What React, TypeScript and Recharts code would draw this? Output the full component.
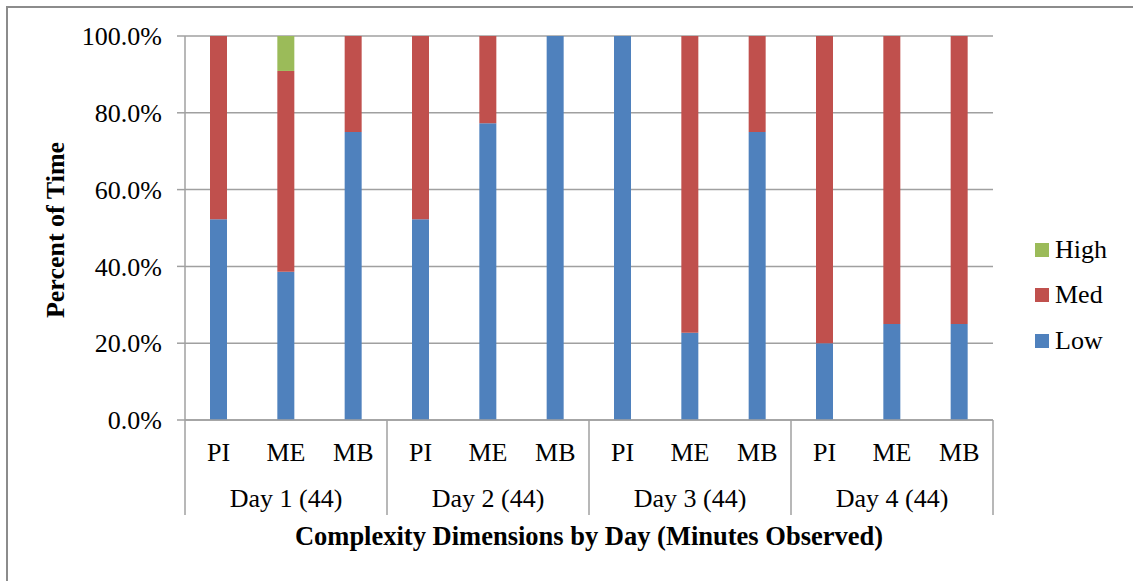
import React from "react";
import { Bar, BarChart, CartesianGrid, XAxis, YAxis } from "recharts";

// categories
const dims = ["PI", "ME", "MB", "PI", "ME", "MB", "PI", "ME", "MB", "PI", "ME", "MB"];
const days = ["Day 1 (44)", "Day 2 (44)", "Day 3 (44)", "Day 4 (44)"];

// percent of time per complexity level
const low = [52.3, 38.6, 75.0, 52.3, 77.3, 100, 100, 22.7, 75.0, 20.0, 25.0, 25.0];
const med = [47.7, 52.3, 25.0, 47.7, 22.7, 0, 0, 77.3, 25.0, 80.0, 75.0, 75.0];
const high = [0, 9.1, 0, 0, 0, 0, 0, 0, 0, 0, 0, 0];

const yTicks = [0, 20, 40, 60, 80, 100];

const data = dims.map((d, i) => ({
  dim: d,
  day: days[Math.floor(i / 3)],
  Low: low[i],
  Med: med[i],
  High: high[i],
}));

const W = 1133;
const H = 581;
const M = { top: 36, right: 140, left: 85, bottom: 0 };
const Y_W = 100;
const X_H = 161;
const PLOT_L = M.left + Y_W;
const PLOT_R = W - M.right;
const BAND = (PLOT_R - PLOT_L) / data.length;

const FONT = "'Liberation Serif', 'Times New Roman', serif";
const FS = 26;
const GRAY = "#a0a0a0";

const colors = { Low: "#4F81BD", Med: "#C0504D", High: "#9BBB59" };

function CategoryTick(props: any) {
  const { x, y, index } = props;
  const item = data[index];
  return (
    <g>
      <text x={x} y={y + 41} textAnchor="middle" fontFamily={FONT} fontSize={FS} fill="#000">
        {item.dim}
      </text>
      {index % 3 === 1 && (
        <text x={x} y={y + 87} textAnchor="middle" fontFamily={FONT} fontSize={FS} fill="#000">
          {item.day}
        </text>
      )}
      {index % 3 === 0 && (
        <line x1={x - BAND / 2} x2={x - BAND / 2} y1={y} y2={y + 95} stroke={GRAY} strokeWidth={1.5} />
      )}
      {index === data.length - 1 && (
        <line x1={x + BAND / 2} x2={x + BAND / 2} y1={y} y2={y + 95} stroke={GRAY} strokeWidth={1.5} />
      )}
    </g>
  );
}

function LegendBox() {
  const items = ["High", "Med", "Low"] as const;
  return (
    <div
      style={{
        position: "absolute",
        left: 1035,
        top: 227,
        fontFamily: FONT,
        fontSize: FS,
        color: "#000",
        lineHeight: 1,
      }}
    >
      {items.map((k) => (
        <div key={k} style={{ display: "flex", alignItems: "center", height: 45.5 }}>
          <span
            style={{
              display: "inline-block",
              width: 14,
              height: 14,
              background: colors[k],
              marginRight: 6,
            }}
          />
          <span>{k}</span>
        </div>
      ))}
    </div>
  );
}

export default function App() {
  return (
    <div
      style={{
        position: "absolute",
        left: 0,
        top: 0,
        width: W,
        height: H,
        overflow: "hidden",
        background: "#fff",
      }}
    >
      <div
        style={{
          position: "absolute",
          left: 6,
          top: 6,
          width: W + 20,
          height: H + 20,
          borderLeft: "2px solid #8c8c8c",
          borderTop: "2px solid #8c8c8c",
        }}
      />
      <div style={{ position: "absolute", left: 0, top: 0 }}>
        <BarChart width={W} height={H} data={data} margin={M} barSize={17}>
          <CartesianGrid vertical={false} stroke={GRAY} strokeWidth={1.5} />
          <XAxis
            dataKey="dim"
            height={X_H}
            interval={0}
            tickSize={0}
            tickMargin={0}
            tickLine={false}
            axisLine={{ stroke: GRAY, strokeWidth: 1.5 }}
            tick={<CategoryTick />}
            label={{
              content: () => (
                <text
                  x={(PLOT_L + PLOT_R) / 2}
                  y={545}
                  textAnchor="middle"
                  fontFamily={FONT}
                  fontSize={26.5}
                  fontWeight="bold"
                  fill="#000"
                >
                  Complexity Dimensions by Day (Minutes Observed)
                </text>
              ),
            }}
          />
          <YAxis
            width={Y_W}
            domain={[0, 100]}
            ticks={yTicks}
            interval={0}
            tickFormatter={(v: number) => v.toFixed(1) + "%"}
            tickSize={8}
            tickMargin={15}
            tickLine={{ stroke: GRAY, strokeWidth: 1.5 }}
            axisLine={{ stroke: GRAY, strokeWidth: 1.5 }}
            tick={{ fontFamily: FONT, fontSize: FS, fill: "#000" }}
            label={{
              content: () => (
                <text
                  x={64}
                  y={230}
                  transform="rotate(-90, 64, 230)"
                  textAnchor="middle"
                  fontFamily={FONT}
                  fontSize={FS}
                  fontWeight="bold"
                  fill="#000"
                >
                  Percent of Time
                </text>
              ),
            }}
          />
          <Bar dataKey="Low" stackId="a" fill={colors.Low} isAnimationActive={false} />
          <Bar dataKey="Med" stackId="a" fill={colors.Med} isAnimationActive={false} />
          <Bar dataKey="High" stackId="a" fill={colors.High} isAnimationActive={false} />
        </BarChart>
      </div>
      <LegendBox />
    </div>
  );
}
